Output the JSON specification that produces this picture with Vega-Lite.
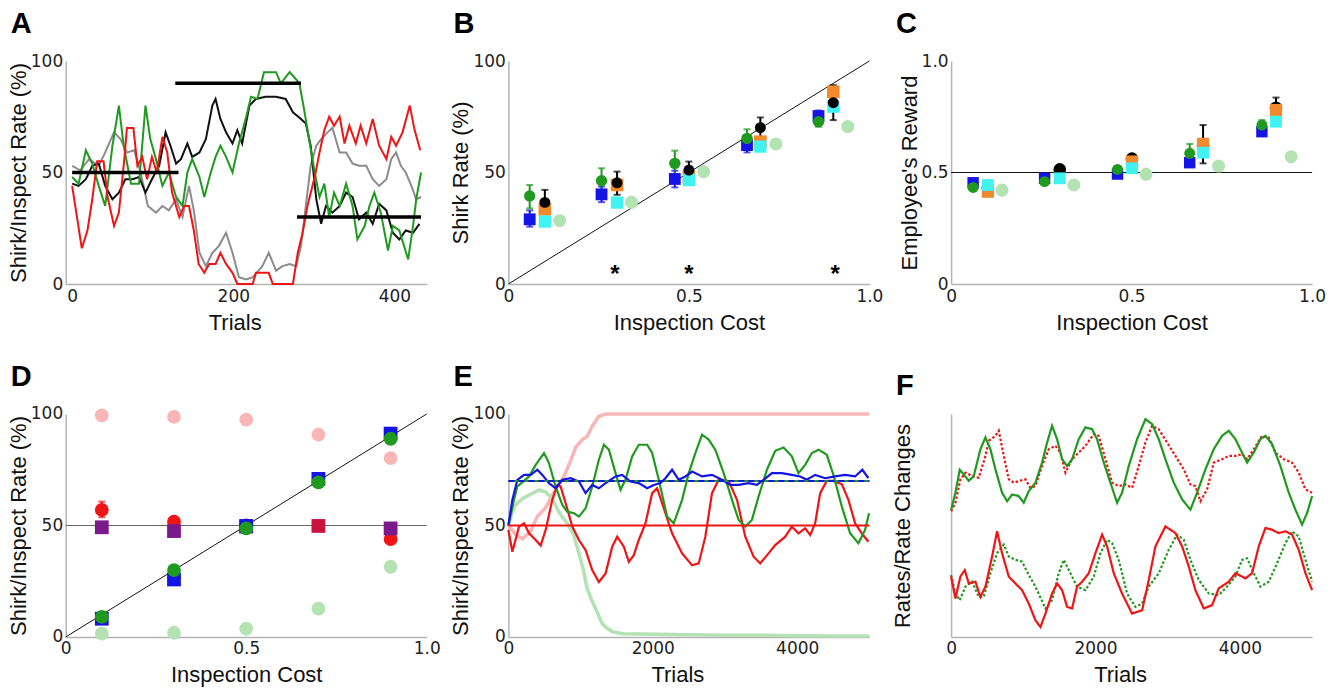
{
"$schema": "https://vega.github.io/schema/vega-lite/v6.json",
"background": "white",
"padding": {"left": 6.7, "top": 10, "right": 5, "bottom": 5},
"config": {
 "view": {"stroke": null},
 "axis": {"grid": false, "ticks": false, "domainColor": "#b4b4b4", "domainWidth": 1.5, "labelFont": "DejaVu Sans", "labelFontSize": 17, "labelColor": "#222", "labelPadding": 3, "labelFlush": false, "labelOverlap": false, "labelBound": false, "titleFont": "Liberation Sans", "titleFontSize": 22, "titleFontWeight": "normal", "titleColor": "#111"},
 "axisX": {"titlePadding": 8, "labelPadding": 4},
 "axisY": {"titlePadding": 0},
 "title": {"anchor": "start", "frame": "group", "fontSize": 29, "font": "Liberation Sans", "fontWeight": "bold", "dx": -55, "offset": 13, "baseline": "alphabetic", "color": "#000"}
},
"datasets": {
 "aLines": [
  {"t":0,"v":53,"s":"gray"},{"t":10,"v":51,"s":"gray"},{"t":21,"v":56,"s":"gray"},{"t":33,"v":53,"s":"gray"},{"t":41,"v":59,"s":"gray"},{"t":52,"v":68,"s":"gray"},{"t":60,"v":65,"s":"gray"},{"t":68,"v":59,"s":"gray"},{"t":77,"v":60,"s":"gray"},{"t":85,"v":50,"s":"gray"},{"t":94,"v":35,"s":"gray"},{"t":104,"v":32,"s":"gray"},{"t":112,"v":35,"s":"gray"},{"t":120,"v":33,"s":"gray"},{"t":129,"v":38,"s":"gray"},{"t":137,"v":30,"s":"gray"},{"t":145,"v":44,"s":"gray"},{"t":151,"v":33,"s":"gray"},{"t":158,"v":14,"s":"gray"},{"t":166,"v":8,"s":"gray"},{"t":174,"v":14,"s":"gray"},{"t":182,"v":17,"s":"gray"},{"t":191,"v":23,"s":"gray"},{"t":199,"v":14,"s":"gray"},{"t":207,"v":3,"s":"gray"},{"t":216,"v":2,"s":"gray"},{"t":224,"v":3,"s":"gray"},{"t":236,"v":8,"s":"gray"},{"t":244,"v":14,"s":"gray"},{"t":253,"v":6,"s":"gray"},{"t":261,"v":8,"s":"gray"},{"t":270,"v":9,"s":"gray"},{"t":278,"v":8,"s":"gray"},{"t":284,"v":17,"s":"gray"},{"t":290,"v":35,"s":"gray"},{"t":296,"v":53,"s":"gray"},{"t":303,"v":62,"s":"gray"},{"t":309,"v":65,"s":"gray"},{"t":317,"v":68,"s":"gray"},{"t":323,"v":70,"s":"gray"},{"t":332,"v":59,"s":"gray"},{"t":340,"v":59,"s":"gray"},{"t":348,"v":54,"s":"gray"},{"t":356,"v":53,"s":"gray"},{"t":365,"v":53,"s":"gray"},{"t":373,"v":47,"s":"gray"},{"t":381,"v":44,"s":"gray"},{"t":390,"v":47,"s":"gray"},{"t":396,"v":56,"s":"gray"},{"t":402,"v":59,"s":"gray"},{"t":408,"v":53,"s":"gray"},{"t":414,"v":50,"s":"gray"},{"t":421,"v":44,"s":"gray"},{"t":427,"v":38,"s":"gray"},{"t":433,"v":39,"s":"gray"},
  {"t":0,"v":45,"s":"black"},{"t":8,"v":44,"s":"black"},{"t":17,"v":47,"s":"black"},{"t":25,"v":53,"s":"black"},{"t":33,"v":54,"s":"black"},{"t":41,"v":44,"s":"black"},{"t":50,"v":38,"s":"black"},{"t":58,"v":41,"s":"black"},{"t":66,"v":47,"s":"black"},{"t":75,"v":47,"s":"black"},{"t":83,"v":48,"s":"black"},{"t":91,"v":41,"s":"black"},{"t":99,"v":47,"s":"black"},{"t":108,"v":53,"s":"black"},{"t":116,"v":68,"s":"black"},{"t":122,"v":62,"s":"black"},{"t":129,"v":54,"s":"black"},{"t":135,"v":56,"s":"black"},{"t":143,"v":63,"s":"black"},{"t":149,"v":57,"s":"black"},{"t":158,"v":59,"s":"black"},{"t":166,"v":65,"s":"black"},{"t":174,"v":80,"s":"black"},{"t":178,"v":83,"s":"black"},{"t":184,"v":74,"s":"black"},{"t":191,"v":68,"s":"black"},{"t":199,"v":63,"s":"black"},{"t":205,"v":69,"s":"black"},{"t":211,"v":63,"s":"black"},{"t":220,"v":80,"s":"black"},{"t":228,"v":83,"s":"black"},{"t":240,"v":84,"s":"black"},{"t":253,"v":84,"s":"black"},{"t":265,"v":83,"s":"black"},{"t":274,"v":77,"s":"black"},{"t":284,"v":74,"s":"black"},{"t":290,"v":72,"s":"black"},{"t":296,"v":62,"s":"black"},{"t":303,"v":38,"s":"black"},{"t":309,"v":27,"s":"black"},{"t":315,"v":35,"s":"black"},{"t":323,"v":32,"s":"black"},{"t":332,"v":35,"s":"black"},{"t":340,"v":41,"s":"black"},{"t":348,"v":39,"s":"black"},{"t":356,"v":29,"s":"black"},{"t":365,"v":32,"s":"black"},{"t":373,"v":27,"s":"black"},{"t":381,"v":36,"s":"black"},{"t":390,"v":33,"s":"black"},{"t":398,"v":23,"s":"black"},{"t":406,"v":20,"s":"black"},{"t":414,"v":24,"s":"black"},{"t":423,"v":23,"s":"black"},{"t":431,"v":27,"s":"black"},
  {"t":0,"v":48,"s":"green"},{"t":8,"v":45,"s":"green"},{"t":17,"v":60,"s":"green"},{"t":25,"v":54,"s":"green"},{"t":33,"v":44,"s":"green"},{"t":41,"v":35,"s":"green"},{"t":50,"v":62,"s":"green"},{"t":58,"v":80,"s":"green"},{"t":64,"v":62,"s":"green"},{"t":73,"v":45,"s":"green"},{"t":83,"v":45,"s":"green"},{"t":91,"v":80,"s":"green"},{"t":97,"v":65,"s":"green"},{"t":104,"v":56,"s":"green"},{"t":112,"v":44,"s":"green"},{"t":120,"v":50,"s":"green"},{"t":129,"v":39,"s":"green"},{"t":137,"v":35,"s":"green"},{"t":143,"v":50,"s":"green"},{"t":149,"v":56,"s":"green"},{"t":158,"v":48,"s":"green"},{"t":164,"v":39,"s":"green"},{"t":172,"v":50,"s":"green"},{"t":178,"v":57,"s":"green"},{"t":184,"v":62,"s":"green"},{"t":191,"v":57,"s":"green"},{"t":199,"v":50,"s":"green"},{"t":207,"v":63,"s":"green"},{"t":216,"v":75,"s":"green"},{"t":222,"v":84,"s":"green"},{"t":230,"v":83,"s":"green"},{"t":238,"v":95,"s":"green"},{"t":253,"v":95,"s":"green"},{"t":259,"v":90,"s":"green"},{"t":270,"v":95,"s":"green"},{"t":282,"v":90,"s":"green"},{"t":288,"v":78,"s":"green"},{"t":294,"v":65,"s":"green"},{"t":301,"v":50,"s":"green"},{"t":307,"v":39,"s":"green"},{"t":313,"v":45,"s":"green"},{"t":319,"v":30,"s":"green"},{"t":325,"v":41,"s":"green"},{"t":332,"v":35,"s":"green"},{"t":340,"v":45,"s":"green"},{"t":348,"v":35,"s":"green"},{"t":354,"v":20,"s":"green"},{"t":363,"v":26,"s":"green"},{"t":369,"v":35,"s":"green"},{"t":375,"v":41,"s":"green"},{"t":383,"v":32,"s":"green"},{"t":392,"v":15,"s":"green"},{"t":398,"v":26,"s":"green"},{"t":406,"v":24,"s":"green"},{"t":417,"v":11,"s":"green"},{"t":423,"v":26,"s":"green"},{"t":427,"v":38,"s":"green"},{"t":433,"v":50,"s":"green"},
  {"t":0,"v":44,"s":"red"},{"t":12,"v":16,"s":"red"},{"t":19,"v":24,"s":"red"},{"t":25,"v":38,"s":"red"},{"t":31,"v":55,"s":"red"},{"t":39,"v":55,"s":"red"},{"t":44,"v":39,"s":"red"},{"t":52,"v":26,"s":"red"},{"t":58,"v":32,"s":"red"},{"t":65,"v":57,"s":"red"},{"t":68,"v":70,"s":"red"},{"t":76,"v":70,"s":"red"},{"t":81,"v":53,"s":"red"},{"t":87,"v":57,"s":"red"},{"t":93,"v":47,"s":"red"},{"t":99,"v":57,"s":"red"},{"t":105,"v":50,"s":"red"},{"t":112,"v":66,"s":"red"},{"t":118,"v":59,"s":"red"},{"t":124,"v":41,"s":"red"},{"t":133,"v":30,"s":"red"},{"t":139,"v":35,"s":"red"},{"t":145,"v":35,"s":"red"},{"t":151,"v":24,"s":"red"},{"t":157,"v":9,"s":"red"},{"t":164,"v":5,"s":"red"},{"t":170,"v":9,"s":"red"},{"t":178,"v":9,"s":"red"},{"t":184,"v":14,"s":"red"},{"t":191,"v":9,"s":"red"},{"t":199,"v":5,"s":"red"},{"t":205,"v":0,"s":"red"},{"t":224,"v":0,"s":"red"},{"t":228,"v":5,"s":"red"},{"t":244,"v":5,"s":"red"},{"t":249,"v":0,"s":"red"},{"t":274,"v":0,"s":"red"},{"t":280,"v":14,"s":"red"},{"t":286,"v":23,"s":"red"},{"t":292,"v":35,"s":"red"},{"t":301,"v":48,"s":"red"},{"t":307,"v":59,"s":"red"},{"t":313,"v":69,"s":"red"},{"t":319,"v":75,"s":"red"},{"t":325,"v":71,"s":"red"},{"t":332,"v":75,"s":"red"},{"t":338,"v":63,"s":"red"},{"t":344,"v":71,"s":"red"},{"t":352,"v":63,"s":"red"},{"t":358,"v":71,"s":"red"},{"t":365,"v":63,"s":"red"},{"t":373,"v":74,"s":"red"},{"t":381,"v":62,"s":"red"},{"t":390,"v":56,"s":"red"},{"t":396,"v":66,"s":"red"},{"t":402,"v":62,"s":"red"},{"t":410,"v":68,"s":"red"},{"t":419,"v":80,"s":"red"},{"t":425,"v":69,"s":"red"},{"t":432,"v":60,"s":"red"}
 ],
 "aSeg": [{"x1":0,"x2":132,"y":50},{"x1":128,"x2":284,"y":90},{"x1":279,"x2":433,"y":30}],
 "bPts": [
  {"x":0.142,"y":28.4,"s":"lg"},{"x":0.341,"y":36.6,"s":"lg"},{"x":0.541,"y":50.4,"s":"lg"},{"x":0.741,"y":62.8,"s":"lg"},{"x":0.94,"y":70.6,"s":"lg"},
  {"x":0.101,"y":33.5,"s":"or"},{"x":0.301,"y":44.4,"s":"or"},{"x":0.5,"y":48.1,"s":"or"},{"x":0.698,"y":63.8,"s":"or"},{"x":0.9,"y":86.2,"s":"or"},
  {"x":0.101,"y":28,"s":"cy"},{"x":0.301,"y":36.5,"s":"cy"},{"x":0.5,"y":46.6,"s":"cy"},{"x":0.698,"y":61.6,"s":"cy"},{"x":0.9,"y":79.5,"s":"cy"},
  {"x":0.059,"y":29,"lo":25.7,"hi":33,"s":"bl"},{"x":0.258,"y":40.2,"lo":36.7,"hi":43.7,"s":"bl"},{"x":0.461,"y":47.1,"lo":43.3,"hi":50.8,"s":"bl"},{"x":0.661,"y":62.3,"lo":59,"hi":66,"s":"bl"},{"x":0.859,"y":75.3,"lo":71.5,"hi":77.8,"s":"bl"},
  {"x":0.059,"y":39.5,"lo":33.9,"hi":44.4,"s":"gr"},{"x":0.258,"y":46.3,"lo":40.7,"hi":51.9,"s":"gr"},{"x":0.461,"y":54.1,"lo":48.1,"hi":59.8,"s":"gr"},{"x":0.661,"y":65.3,"lo":61,"hi":69.4,"s":"gr"},{"x":0.859,"y":72.8,"lo":70.5,"hi":75,"s":"gr"},
  {"x":0.101,"y":36.6,"lo":31.7,"hi":42.2,"s":"bk"},{"x":0.301,"y":45.4,"lo":40,"hi":50.4,"s":"bk"},{"x":0.5,"y":51.1,"lo":46.6,"hi":54.9,"s":"bk"},{"x":0.698,"y":70.1,"lo":65.3,"hi":74.7,"s":"bk"},{"x":0.9,"y":81.3,"lo":73.5,"hi":89.2,"s":"bk"}
 ],
 "bStar": [{"x":0.295,"y":9.5,"t":"*"},{"x":0.5,"y":9.5,"t":"*"},{"x":0.905,"y":9.5,"t":"*"}],
 "bDiag": [{"x":0,"y":0,"x2":1,"y2":100}],
 "cPts": [
  {"x":0.141,"y":0.421,"s":"lg"},{"x":0.34,"y":0.444,"s":"lg"},{"x":0.54,"y":0.492,"s":"lg"},{"x":0.741,"y":0.529,"s":"lg"},{"x":0.942,"y":0.571,"s":"lg"},
  {"x":0.102,"y":0.43,"s":"bk"},{"x":0.301,"y":0.514,"s":"bk"},{"x":0.501,"y":0.562,"s":"bk"},{"x":0.698,"y":0.62,"lo":0.541,"hi":0.713,"s":"bk"},{"x":0.9,"y":0.79,"lo":0.75,"hi":0.836,"s":"bk"},
  {"x":0.102,"y":0.414,"s":"or"},{"x":0.501,"y":0.549,"s":"or"},{"x":0.698,"y":0.628,"s":"or"},{"x":0.9,"y":0.78,"s":"or"},
  {"x":0.102,"y":0.444,"s":"cy"},{"x":0.301,"y":0.474,"s":"cy"},{"x":0.501,"y":0.519,"s":"cy"},{"x":0.698,"y":0.589,"s":"cy"},{"x":0.9,"y":0.728,"s":"cy"},
  {"x":0.061,"y":0.454,"s":"bl"},{"x":0.259,"y":0.474,"s":"bl"},{"x":0.461,"y":0.493,"s":"bl"},{"x":0.661,"y":0.544,"s":"bl"},{"x":0.861,"y":0.683,"s":"bl"},
  {"x":0.061,"y":0.433,"s":"gr"},{"x":0.259,"y":0.459,"s":"gr"},{"x":0.461,"y":0.514,"s":"gr"},{"x":0.661,"y":0.586,"lo":0.55,"hi":0.628,"s":"gr"},{"x":0.861,"y":0.713,"lo":0.69,"hi":0.735,"s":"gr"}
 ],
 "cHline": [{"x":0,"x2":1,"y":0.5}],
 "dPts": [
  {"x":0.1,"y":99.4,"s":"pk"},{"x":0.3,"y":98.7,"s":"pk"},{"x":0.5,"y":97.5,"s":"pk"},{"x":0.7,"y":90.7,"s":"pk"},{"x":0.9,"y":80.2,"s":"pk"},
  {"x":0.1,"y":1.5,"s":"lg"},{"x":0.3,"y":1.9,"s":"lg"},{"x":0.5,"y":3.7,"s":"lg"},{"x":0.7,"y":12.7,"s":"lg"},{"x":0.9,"y":31.5,"s":"lg"},
  {"x":0.1,"y":57,"lo":53.7,"hi":60.7,"s":"rd"},{"x":0.3,"y":51.7,"s":"rd"},{"x":0.5,"y":50,"s":"rd"},{"x":0.9,"y":43.9,"s":"rd"},
  {"x":0.1,"y":49.2,"s":"pu"},{"x":0.3,"y":47.5,"s":"pu"},{"x":0.5,"y":49.5,"s":"pu"},{"x":0.9,"y":48.7,"s":"pu"},
  {"x":0.7,"y":49.8,"s":"rq"},
  {"x":0.1,"y":8.2,"s":"bl"},{"x":0.3,"y":25.8,"s":"bl"},{"x":0.5,"y":49.8,"s":"bl"},{"x":0.7,"y":70.9,"s":"bl"},{"x":0.9,"y":91.2,"s":"bl"},
  {"x":0.1,"y":9,"s":"gr"},{"x":0.3,"y":30,"s":"gr"},{"x":0.5,"y":48.7,"s":"gr"},{"x":0.7,"y":69.3,"s":"gr"},{"x":0.9,"y":88.9,"s":"gr"}
 ],
 "dHline": [{"x":0,"y":50,"x2":1,"y2":50}],
 "dDiag": [{"x":0,"y":0,"x2":1,"y2":100}],
 "ePale": [
  {"t":0,"v":50,"s":"pk"},{"t":100,"v":46,"s":"pk"},{"t":194,"v":44,"s":"pk"},{"t":300,"v":47,"s":"pk"},{"t":400,"v":54,"s":"pk"},{"t":516,"v":58,"s":"pk"},{"t":631,"v":65,"s":"pk"},{"t":770,"v":72,"s":"pk"},{"t":862,"v":79,"s":"pk"},{"t":931,"v":85,"s":"pk"},{"t":1023,"v":88.5,"s":"pk"},{"t":1092,"v":90,"s":"pk"},{"t":1161,"v":94.5,"s":"pk"},{"t":1253,"v":99,"s":"pk"},{"t":1346,"v":100,"s":"pk"},{"t":5000,"v":100,"s":"pk"},
  {"t":0,"v":50,"s":"lg"},{"t":78,"v":58.5,"s":"lg"},{"t":194,"v":62,"s":"lg"},{"t":309,"v":64,"s":"lg"},{"t":424,"v":66,"s":"lg"},{"t":516,"v":65,"s":"lg"},{"t":608,"v":62,"s":"lg"},{"t":700,"v":56,"s":"lg"},{"t":765,"v":53,"s":"lg"},{"t":816,"v":51,"s":"lg"},{"t":904,"v":46,"s":"lg"},{"t":977,"v":37.5,"s":"lg"},{"t":1040,"v":30,"s":"lg"},{"t":1088,"v":22,"s":"lg"},{"t":1160,"v":16,"s":"lg"},{"t":1226,"v":11.4,"s":"lg"},{"t":1300,"v":6,"s":"lg"},{"t":1364,"v":4,"s":"lg"},{"t":1450,"v":2.2,"s":"lg"},{"t":1595,"v":1.5,"s":"lg"},{"t":2056,"v":1.2,"s":"lg"},{"t":2500,"v":1,"s":"lg"},{"t":3000,"v":0.8,"s":"lg"},{"t":3500,"v":0.8,"s":"lg"},{"t":4000,"v":0.6,"s":"lg"},{"t":4500,"v":0.5,"s":"lg"},{"t":5000,"v":0.5,"s":"lg"}
 ],
 "eMain": [
  {"t":0,"v":48,"s":"rd"},{"t":55,"v":38.2,"s":"rd"},{"t":147,"v":49.5,"s":"rd"},{"t":217,"v":51,"s":"rd"},{"t":286,"v":46.5,"s":"rd"},{"t":378,"v":43.5,"s":"rd"},{"t":447,"v":41,"s":"rd"},{"t":516,"v":48,"s":"rd"},{"t":608,"v":61.5,"s":"rd"},{"t":677,"v":68,"s":"rd"},{"t":723,"v":67.5,"s":"rd"},{"t":793,"v":60,"s":"rd"},{"t":885,"v":49.5,"s":"rd"},{"t":977,"v":43.5,"s":"rd"},{"t":1069,"v":39,"s":"rd"},{"t":1161,"v":30,"s":"rd"},{"t":1253,"v":24.7,"s":"rd"},{"t":1346,"v":28.5,"s":"rd"},{"t":1438,"v":40.5,"s":"rd"},{"t":1507,"v":45,"s":"rd"},{"t":1599,"v":40.5,"s":"rd"},{"t":1668,"v":33.7,"s":"rd"},{"t":1737,"v":36.7,"s":"rd"},{"t":1806,"v":43.5,"s":"rd"},{"t":1899,"v":51,"s":"rd"},{"t":1991,"v":64.5,"s":"rd"},{"t":2060,"v":66.7,"s":"rd"},{"t":2129,"v":60,"s":"rd"},{"t":2267,"v":46.5,"s":"rd"},{"t":2406,"v":37.5,"s":"rd"},{"t":2544,"v":32.2,"s":"rd"},{"t":2636,"v":33,"s":"rd"},{"t":2728,"v":45,"s":"rd"},{"t":2820,"v":64.5,"s":"rd"},{"t":2912,"v":70.5,"s":"rd"},{"t":3051,"v":70,"s":"rd"},{"t":3166,"v":61.5,"s":"rd"},{"t":3281,"v":45,"s":"rd"},{"t":3396,"v":36,"s":"rd"},{"t":3488,"v":33,"s":"rd"},{"t":3603,"v":37.5,"s":"rd"},{"t":3696,"v":41.2,"s":"rd"},{"t":3834,"v":45,"s":"rd"},{"t":3926,"v":49.5,"s":"rd"},{"t":4018,"v":46.5,"s":"rd"},{"t":4111,"v":48.7,"s":"rd"},{"t":4180,"v":45.7,"s":"rd"},{"t":4249,"v":51,"s":"rd"},{"t":4318,"v":64.5,"s":"rd"},{"t":4410,"v":70,"s":"rd"},{"t":4502,"v":70,"s":"rd"},{"t":4618,"v":68.5,"s":"rd"},{"t":4710,"v":61.5,"s":"rd"},{"t":4802,"v":51,"s":"rd"},{"t":4894,"v":46.5,"s":"rd"},{"t":4986,"v":42.7,"s":"rd"},
  {"t":0,"v":50,"s":"gr"},{"t":78,"v":61.5,"s":"gr"},{"t":124,"v":67.5,"s":"gr"},{"t":217,"v":70,"s":"gr"},{"t":286,"v":72,"s":"gr"},{"t":378,"v":77.2,"s":"gr"},{"t":493,"v":82.5,"s":"gr"},{"t":562,"v":78,"s":"gr"},{"t":654,"v":67.5,"s":"gr"},{"t":747,"v":59.2,"s":"gr"},{"t":816,"v":56.2,"s":"gr"},{"t":908,"v":55.5,"s":"gr"},{"t":977,"v":54,"s":"gr"},{"t":1069,"v":57.7,"s":"gr"},{"t":1161,"v":67.5,"s":"gr"},{"t":1253,"v":79.5,"s":"gr"},{"t":1323,"v":86.2,"s":"gr"},{"t":1392,"v":84,"s":"gr"},{"t":1484,"v":73.5,"s":"gr"},{"t":1553,"v":66,"s":"gr"},{"t":1622,"v":70.5,"s":"gr"},{"t":1714,"v":81,"s":"gr"},{"t":1806,"v":86.2,"s":"gr"},{"t":1922,"v":86.2,"s":"gr"},{"t":1991,"v":82.5,"s":"gr"},{"t":2083,"v":70.5,"s":"gr"},{"t":2198,"v":54,"s":"gr"},{"t":2290,"v":51,"s":"gr"},{"t":2406,"v":61.5,"s":"gr"},{"t":2498,"v":73.5,"s":"gr"},{"t":2590,"v":82.5,"s":"gr"},{"t":2682,"v":90.7,"s":"gr"},{"t":2774,"v":88.5,"s":"gr"},{"t":2866,"v":84,"s":"gr"},{"t":2982,"v":73.5,"s":"gr"},{"t":3097,"v":61.5,"s":"gr"},{"t":3189,"v":52.5,"s":"gr"},{"t":3281,"v":49.5,"s":"gr"},{"t":3373,"v":52.5,"s":"gr"},{"t":3465,"v":63,"s":"gr"},{"t":3581,"v":75,"s":"gr"},{"t":3696,"v":83.5,"s":"gr"},{"t":3811,"v":85,"s":"gr"},{"t":3926,"v":81,"s":"gr"},{"t":4018,"v":73.5,"s":"gr"},{"t":4111,"v":77.2,"s":"gr"},{"t":4203,"v":82.5,"s":"gr"},{"t":4295,"v":84,"s":"gr"},{"t":4410,"v":81.7,"s":"gr"},{"t":4502,"v":72.7,"s":"gr"},{"t":4618,"v":58.5,"s":"gr"},{"t":4733,"v":46.5,"s":"gr"},{"t":4848,"v":42,"s":"gr"},{"t":4940,"v":48,"s":"gr"},{"t":4995,"v":55.5,"s":"gr"},
  {"t":0,"v":50,"s":"bl"},{"t":55,"v":61.5,"s":"bl"},{"t":124,"v":70.5,"s":"bl"},{"t":217,"v":72.7,"s":"bl"},{"t":309,"v":72.7,"s":"bl"},{"t":401,"v":75,"s":"bl"},{"t":470,"v":72.7,"s":"bl"},{"t":562,"v":69,"s":"bl"},{"t":654,"v":66.7,"s":"bl"},{"t":747,"v":70.5,"s":"bl"},{"t":862,"v":71.2,"s":"bl"},{"t":977,"v":69.7,"s":"bl"},{"t":1069,"v":64.5,"s":"bl"},{"t":1161,"v":68.2,"s":"bl"},{"t":1253,"v":66.7,"s":"bl"},{"t":1346,"v":69,"s":"bl"},{"t":1484,"v":72,"s":"bl"},{"t":1576,"v":72.7,"s":"bl"},{"t":1691,"v":69.7,"s":"bl"},{"t":1806,"v":69,"s":"bl"},{"t":1922,"v":66.7,"s":"bl"},{"t":2014,"v":68.2,"s":"bl"},{"t":2106,"v":69,"s":"bl"},{"t":2175,"v":71.2,"s":"bl"},{"t":2267,"v":75,"s":"bl"},{"t":2359,"v":70.5,"s":"bl"},{"t":2452,"v":72,"s":"bl"},{"t":2544,"v":74.2,"s":"bl"},{"t":2682,"v":72,"s":"bl"},{"t":2820,"v":72.7,"s":"bl"},{"t":2958,"v":70.5,"s":"bl"},{"t":3074,"v":68.2,"s":"bl"},{"t":3189,"v":68.2,"s":"bl"},{"t":3327,"v":69,"s":"bl"},{"t":3442,"v":68.2,"s":"bl"},{"t":3535,"v":70.5,"s":"bl"},{"t":3650,"v":73.5,"s":"bl"},{"t":3788,"v":73.5,"s":"bl"},{"t":3926,"v":72.7,"s":"bl"},{"t":4041,"v":72,"s":"bl"},{"t":4134,"v":70.5,"s":"bl"},{"t":4249,"v":72.7,"s":"bl"},{"t":4387,"v":71.2,"s":"bl"},{"t":4525,"v":72,"s":"bl"},{"t":4664,"v":72.7,"s":"bl"},{"t":4802,"v":72,"s":"bl"},{"t":4903,"v":75,"s":"bl"},{"t":4986,"v":71.2,"s":"bl"}
 ],
 "eRules": [{"x":0,"x2":5000,"y":50,"s":"rd"},{"x":0,"x2":5000,"y":70,"s":"gr"}],
 "eBlueRule": [{"x":0,"x2":5000,"y":70}],
 "fLines": [
  {"t":0,"v":56.4,"s":"rD"},{"t":60,"v":60.2,"s":"rD"},{"t":129,"v":70.7,"s":"rD"},{"t":199,"v":73.7,"s":"rD"},{"t":291,"v":72.2,"s":"rD"},{"t":383,"v":71.4,"s":"rD"},{"t":476,"v":81.2,"s":"rD"},{"t":522,"v":88,"s":"rD"},{"t":614,"v":90.2,"s":"rD"},{"t":660,"v":92.5,"s":"rD"},{"t":730,"v":81.2,"s":"rD"},{"t":799,"v":70.7,"s":"rD"},{"t":868,"v":69.2,"s":"rD"},{"t":937,"v":69.9,"s":"rD"},{"t":1029,"v":70.7,"s":"rD"},{"t":1099,"v":66.9,"s":"rD"},{"t":1168,"v":67.7,"s":"rD"},{"t":1260,"v":76.7,"s":"rD"},{"t":1353,"v":84.2,"s":"rD"},{"t":1445,"v":85.7,"s":"rD"},{"t":1514,"v":82.7,"s":"rD"},{"t":1584,"v":73.7,"s":"rD"},{"t":1676,"v":79.7,"s":"rD"},{"t":1768,"v":82.7,"s":"rD"},{"t":1861,"v":85.7,"s":"rD"},{"t":1976,"v":91,"s":"rD"},{"t":2045,"v":90.2,"s":"rD"},{"t":2138,"v":79.7,"s":"rD"},{"t":2230,"v":69.2,"s":"rD"},{"t":2322,"v":67.7,"s":"rD"},{"t":2415,"v":68.4,"s":"rD"},{"t":2507,"v":66.9,"s":"rD"},{"t":2599,"v":76.7,"s":"rD"},{"t":2692,"v":87.2,"s":"rD"},{"t":2784,"v":94.7,"s":"rD"},{"t":2876,"v":93.2,"s":"rD"},{"t":2992,"v":87.2,"s":"rD"},{"t":3107,"v":81.2,"s":"rD"},{"t":3223,"v":75.2,"s":"rD"},{"t":3315,"v":68.4,"s":"rD"},{"t":3384,"v":67.7,"s":"rD"},{"t":3453,"v":60.9,"s":"rD"},{"t":3546,"v":66.2,"s":"rD"},{"t":3638,"v":78.2,"s":"rD"},{"t":3753,"v":79.7,"s":"rD"},{"t":3846,"v":81.2,"s":"rD"},{"t":3938,"v":81.2,"s":"rD"},{"t":4030,"v":82,"s":"rD"},{"t":4100,"v":79.7,"s":"rD"},{"t":4192,"v":84.2,"s":"rD"},{"t":4307,"v":90.2,"s":"rD"},{"t":4400,"v":89.5,"s":"rD"},{"t":4492,"v":82.7,"s":"rD"},{"t":4608,"v":79.7,"s":"rD"},{"t":4723,"v":78.2,"s":"rD"},{"t":4815,"v":73.7,"s":"rD"},{"t":4908,"v":66.2,"s":"rD"},{"t":5000,"v":64.7,"s":"rD"},
  {"t":0,"v":57,"s":"gS"},{"t":60,"v":64.7,"s":"gS"},{"t":120,"v":75,"s":"gS"},{"t":175,"v":72.9,"s":"gS"},{"t":245,"v":70,"s":"gS"},{"t":314,"v":72.2,"s":"gS"},{"t":406,"v":84.2,"s":"gS"},{"t":476,"v":89.5,"s":"gS"},{"t":545,"v":84.2,"s":"gS"},{"t":614,"v":75.2,"s":"gS"},{"t":706,"v":64.7,"s":"gS"},{"t":776,"v":60.9,"s":"gS"},{"t":845,"v":63.9,"s":"gS"},{"t":937,"v":63.2,"s":"gS"},{"t":1006,"v":60.2,"s":"gS"},{"t":1076,"v":65.4,"s":"gS"},{"t":1168,"v":69.2,"s":"gS"},{"t":1260,"v":78.2,"s":"gS"},{"t":1330,"v":87.2,"s":"gS"},{"t":1399,"v":94.7,"s":"gS"},{"t":1468,"v":88.7,"s":"gS"},{"t":1538,"v":79.7,"s":"gS"},{"t":1607,"v":76.7,"s":"gS"},{"t":1676,"v":79.7,"s":"gS"},{"t":1768,"v":88.7,"s":"gS"},{"t":1861,"v":94,"s":"gS"},{"t":1953,"v":93.2,"s":"gS"},{"t":2022,"v":88.7,"s":"gS"},{"t":2115,"v":78.2,"s":"gS"},{"t":2207,"v":69.2,"s":"gS"},{"t":2299,"v":60.2,"s":"gS"},{"t":2368,"v":64.7,"s":"gS"},{"t":2461,"v":76.7,"s":"gS"},{"t":2576,"v":88.7,"s":"gS"},{"t":2692,"v":97.7,"s":"gS"},{"t":2784,"v":95.5,"s":"gS"},{"t":2876,"v":88.7,"s":"gS"},{"t":2969,"v":79.7,"s":"gS"},{"t":3084,"v":69.2,"s":"gS"},{"t":3200,"v":61.7,"s":"gS"},{"t":3315,"v":57.1,"s":"gS"},{"t":3407,"v":64.7,"s":"gS"},{"t":3523,"v":75.2,"s":"gS"},{"t":3638,"v":84.2,"s":"gS"},{"t":3753,"v":90.2,"s":"gS"},{"t":3846,"v":92.5,"s":"gS"},{"t":3938,"v":88.7,"s":"gS"},{"t":4030,"v":82.7,"s":"gS"},{"t":4100,"v":78.2,"s":"gS"},{"t":4192,"v":82.7,"s":"gS"},{"t":4284,"v":88.7,"s":"gS"},{"t":4354,"v":90.2,"s":"gS"},{"t":4446,"v":86.5,"s":"gS"},{"t":4561,"v":76.7,"s":"gS"},{"t":4677,"v":64.7,"s":"gS"},{"t":4769,"v":57.1,"s":"gS"},{"t":4861,"v":50.4,"s":"gS"},{"t":4931,"v":55.6,"s":"gS"},{"t":5000,"v":63.2,"s":"gS"},
  {"t":0,"v":27.8,"s":"gD"},{"t":60,"v":19.5,"s":"gD"},{"t":120,"v":16.5,"s":"gD"},{"t":199,"v":22.6,"s":"gD"},{"t":291,"v":24.8,"s":"gD"},{"t":383,"v":18,"s":"gD"},{"t":452,"v":18,"s":"gD"},{"t":545,"v":28.6,"s":"gD"},{"t":637,"v":37.6,"s":"gD"},{"t":730,"v":41.4,"s":"gD"},{"t":799,"v":36.1,"s":"gD"},{"t":891,"v":34.6,"s":"gD"},{"t":983,"v":33.8,"s":"gD"},{"t":1076,"v":27.8,"s":"gD"},{"t":1168,"v":22.6,"s":"gD"},{"t":1307,"v":12.8,"s":"gD"},{"t":1399,"v":16.5,"s":"gD"},{"t":1491,"v":28.6,"s":"gD"},{"t":1561,"v":34.6,"s":"gD"},{"t":1653,"v":28.6,"s":"gD"},{"t":1745,"v":22.6,"s":"gD"},{"t":1861,"v":21,"s":"gD"},{"t":1976,"v":27.1,"s":"gD"},{"t":2069,"v":37.6,"s":"gD"},{"t":2161,"v":43.6,"s":"gD"},{"t":2230,"v":42.1,"s":"gD"},{"t":2322,"v":34.6,"s":"gD"},{"t":2438,"v":19.5,"s":"gD"},{"t":2553,"v":13.5,"s":"gD"},{"t":2646,"v":15,"s":"gD"},{"t":2738,"v":22.6,"s":"gD"},{"t":2876,"v":28.6,"s":"gD"},{"t":3015,"v":39.1,"s":"gD"},{"t":3130,"v":45.9,"s":"gD"},{"t":3223,"v":43.6,"s":"gD"},{"t":3315,"v":34.6,"s":"gD"},{"t":3430,"v":25.6,"s":"gD"},{"t":3569,"v":19.5,"s":"gD"},{"t":3707,"v":18.8,"s":"gD"},{"t":3823,"v":22.6,"s":"gD"},{"t":3938,"v":27.1,"s":"gD"},{"t":4030,"v":34.6,"s":"gD"},{"t":4100,"v":35.3,"s":"gD"},{"t":4192,"v":28.6,"s":"gD"},{"t":4284,"v":22.6,"s":"gD"},{"t":4400,"v":24.8,"s":"gD"},{"t":4515,"v":33.1,"s":"gD"},{"t":4631,"v":42.1,"s":"gD"},{"t":4723,"v":47.4,"s":"gD"},{"t":4815,"v":45.1,"s":"gD"},{"t":4908,"v":34.6,"s":"gD"},{"t":5000,"v":24.8,"s":"gD"},
  {"t":0,"v":27.1,"s":"rS"},{"t":60,"v":17.3,"s":"rS"},{"t":129,"v":27.1,"s":"rS"},{"t":189,"v":30,"s":"rS"},{"t":245,"v":24,"s":"rS"},{"t":337,"v":24.8,"s":"rS"},{"t":406,"v":18,"s":"rS"},{"t":476,"v":22.6,"s":"rS"},{"t":568,"v":36.1,"s":"rS"},{"t":637,"v":47.4,"s":"rS"},{"t":706,"v":37.6,"s":"rS"},{"t":799,"v":27.1,"s":"rS"},{"t":891,"v":24,"s":"rS"},{"t":983,"v":21,"s":"rS"},{"t":1076,"v":15,"s":"rS"},{"t":1168,"v":7.5,"s":"rS"},{"t":1237,"v":4.5,"s":"rS"},{"t":1307,"v":10.5,"s":"rS"},{"t":1399,"v":19.5,"s":"rS"},{"t":1468,"v":24,"s":"rS"},{"t":1538,"v":21,"s":"rS"},{"t":1607,"v":13.5,"s":"rS"},{"t":1676,"v":12.8,"s":"rS"},{"t":1745,"v":22.6,"s":"rS"},{"t":1815,"v":24.8,"s":"rS"},{"t":1907,"v":28.6,"s":"rS"},{"t":1999,"v":37.6,"s":"rS"},{"t":2092,"v":45.9,"s":"rS"},{"t":2161,"v":40.6,"s":"rS"},{"t":2253,"v":28.6,"s":"rS"},{"t":2368,"v":19.5,"s":"rS"},{"t":2507,"v":10.5,"s":"rS"},{"t":2646,"v":12,"s":"rS"},{"t":2738,"v":25.6,"s":"rS"},{"t":2830,"v":40.6,"s":"rS"},{"t":2969,"v":49.6,"s":"rS"},{"t":3107,"v":46.6,"s":"rS"},{"t":3200,"v":40.6,"s":"rS"},{"t":3292,"v":31.6,"s":"rS"},{"t":3384,"v":21,"s":"rS"},{"t":3500,"v":12.8,"s":"rS"},{"t":3615,"v":14.3,"s":"rS"},{"t":3707,"v":21.8,"s":"rS"},{"t":3846,"v":24.8,"s":"rS"},{"t":3938,"v":28.6,"s":"rS"},{"t":4077,"v":26.3,"s":"rS"},{"t":4169,"v":28.6,"s":"rS"},{"t":4261,"v":40.6,"s":"rS"},{"t":4354,"v":48.9,"s":"rS"},{"t":4446,"v":48.1,"s":"rS"},{"t":4538,"v":46.6,"s":"rS"},{"t":4631,"v":47.4,"s":"rS"},{"t":4723,"v":45.9,"s":"rS"},{"t":4815,"v":39.1,"s":"rS"},{"t":4908,"v":28.6,"s":"rS"},{"t":5000,"v":21,"s":"rS"}
 ]
},
"concat": [
  {"width": 361, "height": 223, "title": "A",
   "layer": [
    {"data": {"name": "aLines"}, "mark": {"type": "line", "strokeWidth": 2},
     "encoding": {
      "x": {"field": "t", "type": "quantitative", "scale": {"domain": [-8, 440], "nice": false, "zero": false}, "axis": {"values": [0, 200, 400], "title": "Trials", "titleX": 169}},
      "y": {"field": "v", "type": "quantitative", "scale": {"domain": [0, 100], "nice": false}, "axis": {"values": [0, 50, 100], "title": "Shirk/Inspect Rate (%)"}},
      "color": {"field": "s", "type": "nominal", "scale": {"domain": ["gray", "black", "green", "red"], "range": ["#8c8c8c", "#111111", "#1f9a1f", "#f01414"]}, "legend": null}
     }},
    {"data": {"name": "aSeg"}, "mark": {"type": "rule", "strokeWidth": 3.5, "color": "#000"},
     "encoding": {"x": {"field": "x1", "type": "quantitative"}, "x2": {"field": "x2"}, "y": {"field": "y", "type": "quantitative"}}}
   ]},
  {"width": 361, "height": 223, "title": "B",
   "layer": [
    {"data": {"name": "bDiag"}, "mark": {"type": "rule", "strokeWidth": 1, "color": "#111"},
     "encoding": {
      "x": {"field": "x", "type": "quantitative", "scale": {"domain": [0, 1], "nice": false}, "axis": {"values": [0, 0.5, 1], "labelExpr": "datum.value == 0 ? '0' : format(datum.value, '.1f')", "title": "Inspection Cost"}},
      "y": {"field": "y", "type": "quantitative", "scale": {"domain": [0, 100], "nice": false}, "axis": {"values": [0, 50, 100], "title": "Shirk Rate (%)"}},
      "x2": {"field": "x2"}, "y2": {"field": "y2"}}},
    {"data": {"name": "bPts"}, "transform": [{"filter": "isValid(datum.lo)"}], "mark": {"type": "rule", "strokeWidth": 2},
     "encoding": {"x": {"field": "x", "type": "quantitative"}, "y": {"field": "lo", "type": "quantitative"}, "y2": {"field": "hi"},
      "color": {"field": "s", "type": "nominal", "scale": {"domain": ["lg", "or", "cy", "bl", "gr", "bk"], "range": ["#b3e2b3", "#f08a2c", "#40f2f2", "#1414e6", "#1f9a1f", "#000000"]}, "legend": null}}},
    {"data": {"name": "bPts"}, "transform": [{"filter": "isValid(datum.lo)"}, {"fold": ["lo", "hi"], "as": ["k", "val"]}], "mark": {"type": "tick", "orient": "horizontal", "size": 7, "thickness": 2},
     "encoding": {"x": {"field": "x", "type": "quantitative"}, "y": {"field": "val", "type": "quantitative"},
      "color": {"field": "s", "type": "nominal", "scale": {"domain": ["lg", "or", "cy", "bl", "gr", "bk"], "range": ["#b3e2b3", "#f08a2c", "#40f2f2", "#1414e6", "#1f9a1f", "#000000"]}, "legend": null}}},
    {"data": {"name": "bPts"}, "mark": {"type": "point", "filled": true, "opacity": 1},
     "encoding": {"x": {"field": "x", "type": "quantitative"}, "y": {"field": "y", "type": "quantitative"},
      "color": {"field": "s", "type": "nominal", "scale": {"domain": ["lg", "or", "cy", "bl", "gr", "bk"], "range": ["#b3e2b3", "#f08a2c", "#40f2f2", "#1414e6", "#1f9a1f", "#000000"]}, "legend": null},
      "shape": {"field": "s", "type": "nominal", "scale": {"domain": ["lg", "or", "cy", "bl", "gr", "bk"], "range": ["circle", "square", "square", "square", "circle", "circle"]}, "legend": null},
      "size": {"field": "s", "type": "nominal", "scale": {"domain": ["lg", "or", "cy", "bl", "gr", "bk"], "range": [170, 120, 120, 120, 120, 120]}, "legend": null}}},
    {"data": {"name": "bStar"}, "mark": {"type": "text", "fontSize": 24, "font": "Liberation Sans", "fontWeight": "bold", "baseline": "top", "align": "center", "color": "#000"},
     "encoding": {"x": {"field": "x", "type": "quantitative"}, "y": {"field": "y", "type": "quantitative"}, "text": {"field": "t"}}}
   ]},
  {"width": 361, "height": 223, "title": "C",
   "layer": [
    {"data": {"name": "cHline"}, "mark": {"type": "rule", "strokeWidth": 1, "color": "#111"},
     "encoding": {
      "x": {"field": "x", "type": "quantitative", "scale": {"domain": [0, 1], "nice": false}, "axis": {"values": [0, 0.5, 1], "labelExpr": "datum.value == 0 ? '0' : format(datum.value, '.1f')", "title": "Inspection Cost"}},
      "y": {"field": "y", "type": "quantitative", "scale": {"domain": [0, 1], "nice": false}, "axis": {"values": [0, 0.5, 1], "labelExpr": "datum.value == 0 ? '0' : format(datum.value, '.1f')", "title": "Employee's Reward"}},
      "x2": {"field": "x2"}}},
    {"data": {"name": "cPts"}, "transform": [{"filter": "isValid(datum.lo)"}], "mark": {"type": "rule", "strokeWidth": 2},
     "encoding": {"x": {"field": "x", "type": "quantitative"}, "y": {"field": "lo", "type": "quantitative"}, "y2": {"field": "hi"},
      "color": {"field": "s", "type": "nominal", "scale": {"domain": ["lg", "bk", "or", "cy", "bl", "gr"], "range": ["#b3e2b3", "#000000", "#f08a2c", "#40f2f2", "#1414e6", "#1f9a1f"]}, "legend": null}}},
    {"data": {"name": "cPts"}, "transform": [{"filter": "isValid(datum.lo)"}, {"fold": ["lo", "hi"], "as": ["k", "val"]}], "mark": {"type": "tick", "orient": "horizontal", "size": 7, "thickness": 2},
     "encoding": {"x": {"field": "x", "type": "quantitative"}, "y": {"field": "val", "type": "quantitative"},
      "color": {"field": "s", "type": "nominal", "scale": {"domain": ["lg", "bk", "or", "cy", "bl", "gr"], "range": ["#b3e2b3", "#000000", "#f08a2c", "#40f2f2", "#1414e6", "#1f9a1f"]}, "legend": null}}},
    {"data": {"name": "cPts"}, "mark": {"type": "point", "filled": true, "opacity": 1},
     "encoding": {"x": {"field": "x", "type": "quantitative"}, "y": {"field": "y", "type": "quantitative"},
      "color": {"field": "s", "type": "nominal", "scale": {"domain": ["lg", "bk", "or", "cy", "bl", "gr"], "range": ["#b3e2b3", "#000000", "#f08a2c", "#40f2f2", "#1414e6", "#1f9a1f"]}, "legend": null},
      "shape": {"field": "s", "type": "nominal", "scale": {"domain": ["lg", "bk", "or", "cy", "bl", "gr"], "range": ["circle", "circle", "square", "square", "square", "circle"]}, "legend": null},
      "size": {"field": "s", "type": "nominal", "scale": {"domain": ["lg", "bk", "or", "cy", "bl", "gr"], "range": [170, 120, 120, 120, 120, 120]}, "legend": null}}}
   ]},
  {"width": 361, "height": 223, "title": "D",
   "layer": [
    {"data": {"name": "dHline"}, "mark": {"type": "rule", "strokeWidth": 1, "color": "#666666"},
     "encoding": {
      "x": {"field": "x", "type": "quantitative", "scale": {"domain": [0, 1], "nice": false}, "axis": {"values": [0, 0.5, 1], "labelExpr": "datum.value == 0 ? '0' : format(datum.value, '.1f')", "title": "Inspection Cost"}},
      "y": {"field": "y", "type": "quantitative", "scale": {"domain": [0, 100], "nice": false}, "axis": {"values": [0, 50, 100], "title": "Shirk/Inspect Rate (%)"}},
      "x2": {"field": "x2"}, "y2": {"field": "y2"}}},
    {"data": {"name": "dDiag"}, "mark": {"type": "rule", "strokeWidth": 1, "color": "#111111"},
     "encoding": {"x": {"field": "x", "type": "quantitative"}, "y": {"field": "y", "type": "quantitative"}, "x2": {"field": "x2"}, "y2": {"field": "y2"}}},
    {"data": {"name": "dPts"}, "transform": [{"filter": "isValid(datum.lo)"}], "mark": {"type": "rule", "strokeWidth": 2, "color": "#f01414"},
     "encoding": {"x": {"field": "x", "type": "quantitative"}, "y": {"field": "lo", "type": "quantitative"}, "y2": {"field": "hi"}}},
    {"data": {"name": "dPts"}, "transform": [{"filter": "isValid(datum.lo)"}, {"fold": ["lo", "hi"], "as": ["k", "val"]}], "mark": {"type": "tick", "orient": "horizontal", "size": 7, "thickness": 2, "color": "#f01414"},
     "encoding": {"x": {"field": "x", "type": "quantitative"}, "y": {"field": "val", "type": "quantitative"}}},
    {"data": {"name": "dPts"}, "mark": {"type": "point", "filled": true, "opacity": 1},
     "encoding": {"x": {"field": "x", "type": "quantitative"}, "y": {"field": "y", "type": "quantitative"},
      "color": {"field": "s", "type": "nominal", "scale": {"domain": ["pk", "lg", "rd", "pu", "rq", "bl", "gr"], "range": ["#f8b6b6", "#b3e2b3", "#f01414", "#7a1a8a", "#c8143c", "#1414e6", "#1f9a1f"]}, "legend": null},
      "shape": {"field": "s", "type": "nominal", "scale": {"domain": ["pk", "lg", "rd", "pu", "rq", "bl", "gr"], "range": ["circle", "circle", "circle", "square", "square", "square", "circle"]}, "legend": null},
      "size": {"field": "s", "type": "nominal", "scale": {"domain": ["pk", "lg", "rd", "pu", "rq", "bl", "gr"], "range": [190, 190, 120, 120, 120, 120, 120]}, "legend": null}}}
   ]},
  {"width": 361, "height": 223, "title": "E",
   "layer": [
    {"data": {"name": "ePale"}, "mark": {"type": "line", "strokeWidth": 3.5},
     "encoding": {
      "x": {"field": "t", "type": "quantitative", "scale": {"domain": [0, 5000], "nice": false}, "axis": {"values": [0, 2000, 4000], "format": "d", "title": "Trials", "titleX": 169}},
      "y": {"field": "v", "type": "quantitative", "scale": {"domain": [0, 100], "nice": false}, "axis": {"values": [0, 50, 100], "title": "Shirk/Inspect Rate (%)"}},
      "color": {"field": "s", "type": "nominal", "scale": {"domain": ["pk", "lg", "rd", "gr", "bl"], "range": ["#f8b6b6", "#b3e2b3", "#f01414", "#1f9a1f", "#1414e6"]}, "legend": null}}},
    {"data": {"name": "eMain"}, "mark": {"type": "line", "strokeWidth": 2.2},
     "encoding": {"x": {"field": "t", "type": "quantitative"}, "y": {"field": "v", "type": "quantitative"},
      "color": {"field": "s", "type": "nominal", "scale": {"domain": ["pk", "lg", "rd", "gr", "bl"], "range": ["#f8b6b6", "#b3e2b3", "#f01414", "#1f9a1f", "#1414e6"]}, "legend": null}}},
    {"data": {"name": "eRules"}, "mark": {"type": "rule", "strokeWidth": 2},
     "encoding": {"x": {"field": "x", "type": "quantitative"}, "x2": {"field": "x2"}, "y": {"field": "y", "type": "quantitative"},
      "color": {"field": "s", "type": "nominal", "scale": {"domain": ["pk", "lg", "rd", "gr", "bl"], "range": ["#f8b6b6", "#b3e2b3", "#f01414", "#1f9a1f", "#1414e6"]}, "legend": null}}},
    {"data": {"name": "eBlueRule"}, "mark": {"type": "rule", "strokeWidth": 2, "color": "#1414e6", "strokeDash": [6, 4]},
     "encoding": {"x": {"field": "x", "type": "quantitative"}, "x2": {"field": "x2"}, "y": {"field": "y", "type": "quantitative"}}}
   ]},
  {"width": 361, "height": 223, "title": "F",
   "layer": [
    {"data": {"name": "fLines"}, "mark": {"type": "line", "strokeWidth": 2.2},
     "encoding": {
      "x": {"field": "t", "type": "quantitative", "scale": {"domain": [0, 5000], "nice": false}, "axis": {"values": [0, 2000, 4000], "format": "d", "title": "Trials", "titleX": 169}},
      "y": {"field": "v", "type": "quantitative", "scale": {"domain": [0, 100], "nice": false}, "axis": {"labels": false, "title": "Rates/Rate Changes", "titlePadding": 37}},
      "color": {"field": "s", "type": "nominal", "scale": {"domain": ["rD", "gS", "gD", "rS"], "range": ["#f01414", "#1f9a1f", "#1f9a1f", "#f01414"]}, "legend": null},
      "strokeDash": {"field": "s", "type": "nominal", "scale": {"domain": ["rD", "gS", "gD", "rS"], "range": [[2.5, 2], [1, 0], [2.5, 2], [1, 0]]}, "legend": null}}}
   ]}
],
"columns": 3,
"spacing": {"row": 130, "column": 81.7},
"bounds": "flush",
"resolve": {"scale": {"color": "independent", "shape": "independent", "size": "independent", "strokeDash": "independent"}}
}
